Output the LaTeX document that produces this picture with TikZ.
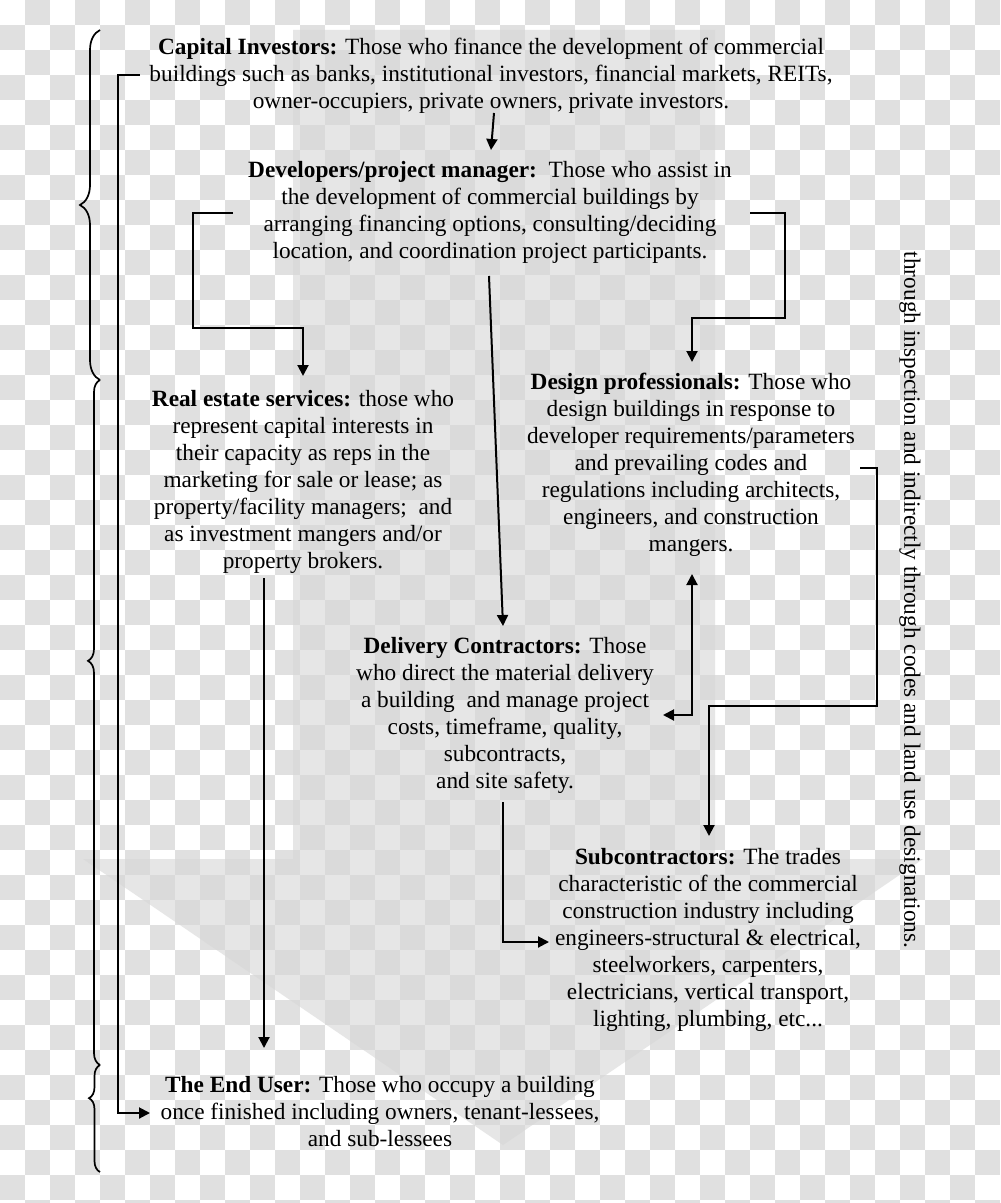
\documentclass[tikz,border=0pt]{standalone}
\usepackage{fontspec}
\setmainfont{Liberation Serif}
\usetikzlibrary{arrows.meta,decorations.pathreplacing}
\definecolor{chk}{RGB}{224,224,224}
\definecolor{arrowfill}{RGB}{214,214,214}
\tikzset{
  txt/.style={font=\fontsize{11.65}{13.5}\selectfont, align=center, inner sep=0pt, anchor=north},
  conn/.style={line width=1pt, -{Triangle[length=5.5pt,width=5.5pt]}},
  plain/.style={line width=1pt},
  curly/.style={line width=0.85pt, decorate},
}
\begin{document}
\begin{tikzpicture}[x=0.5pt,y=-0.5pt]
\useasboundingbox (0,0) rectangle (1000,1203);
% transparency checkerboard
\begin{scope}
\clip (0,0) rectangle (1000,1203);
\fill[white] (0,0) rectangle (1000,1203);
\foreach \j in {0,...,48}{
  \foreach \i in {0,...,39}{
    \pgfmathtruncatemacro\m{mod(\i+\j,2)}
    \ifnum\m=1 \fill[chk] (25*\i,25*\j) rectangle ++(25,25); \fi
  }
}
% big background arrow
\fill[arrowfill, opacity=0.6] (293,30) -- (715,30) -- (715,859) -- (923,859) -- (503,1145) -- (83,859) -- (293,859) -- cycle;
\end{scope}

% text blocks
\node[txt] (cap) at (491,38) {\textbf{Capital Investors:} Those who finance the development of commercial\\
buildings such as banks, institutional investors, financial markets, REITs,\\
owner-occupiers, private owners, private investors.};
\node[txt] (dev) at (490,161) {\textbf{Developers/project manager:}\ \ Those who assist in\\
the development of commercial buildings by\\
arranging financing options, consulting/deciding\\
location, and coordination project participants.};
\node[txt] (res) at (303,390) {\textbf{Real estate services:} those who\\
represent capital interests in\\
their capacity as reps in the\\
marketing for sale or lease; as\\
property/facility managers;\ \ and\\
as investment mangers and/or\\
property brokers.};
\node[txt] (des) at (691,373) {\textbf{Design professionals:} Those who\\
design buildings in response to\\
developer requirements/parameters\\
and prevailing codes and\\
regulations including architects,\\
engineers, and construction\\
mangers.};
\node[txt] (del) at (505,637) {\textbf{Delivery Contractors:} Those\\
who direct the material delivery\\
a building\ \ and manage project\\
costs, timeframe, quality,\\
subcontracts,\\
and site safety.};
\node[txt] (sub) at (708,848) {\textbf{Subcontractors:} The trades\\
characteristic of the commercial\\
construction industry including\\
engineers-structural \& electrical,\\
steelworkers, carpenters,\\
electricians, vertical transport,\\
lighting, plumbing, etc...};
\node[txt] (end) at (380,1076) {\textbf{The End User:} Those who occupy a building\\
once finished including owners, tenant-lessees,\\
and sub-lessees};
\node[font=\fontsize{11.65}{13.5}\selectfont, inner sep=0pt, rotate=-90] (side) at (910,600)
  {through inspection and indirectly through codes and land use designations.};

% connector end points
\coordinate (capS) at (494,113);
\coordinate (devN) at (491,150);
\coordinate (capW) at (140,75);
\coordinate (endW) at (150,1113);
\coordinate (devW) at (233,213);
\coordinate (resN) at (303,376);
\coordinate (devE) at (750,213);
\coordinate (desN) at (692,362);
\coordinate (devS) at (489,276);
\coordinate (delN) at (503,626);
\coordinate (desS) at (692,574);
\coordinate (delE) at (663,715);
\coordinate (desE) at (860,468);
\coordinate (subN) at (709,836);
\coordinate (delS) at (503,802);
\coordinate (subW) at (549,942);
\coordinate (resS) at (264,578);
\coordinate (endN) at (264,1048);

% connectors
\draw[conn] (capS) -- (devN);
\draw[conn] (capW) -- (118,75) -- (118,1113) -- (endW);
\draw[conn] (devW) -- (193,213) -- (193,328) -- (303,328) -- (resN);
\draw[conn] (devE) -- (785,213) -- (785,318) -- (692,318) -- (desN);
\draw[conn] (devS) -- (delN);
\draw[line width=1pt, {Triangle[length=5.5pt,width=5.5pt]}-{Triangle[length=5.5pt,width=5.5pt]}] (desS) -- (692,715) -- (delE);
\draw[conn] (desE) -- (877,468) -- (877,706) -- (709,706) -- (subN);
\draw[conn] (delS) -- (503,942) -- (subW);
\draw[conn] (resS) -- (endN);

% braces
\draw[curly, decoration={brace, amplitude=10pt}] (100,380) -- (100,30);
\draw[curly, decoration={brace, amplitude=6pt, aspect=0.59}] (100,1065) -- (100,380);
\draw[curly, decoration={brace, amplitude=5.5pt, aspect=0.69}] (100,1172) -- (100,1065);
\end{tikzpicture}
\end{document}
